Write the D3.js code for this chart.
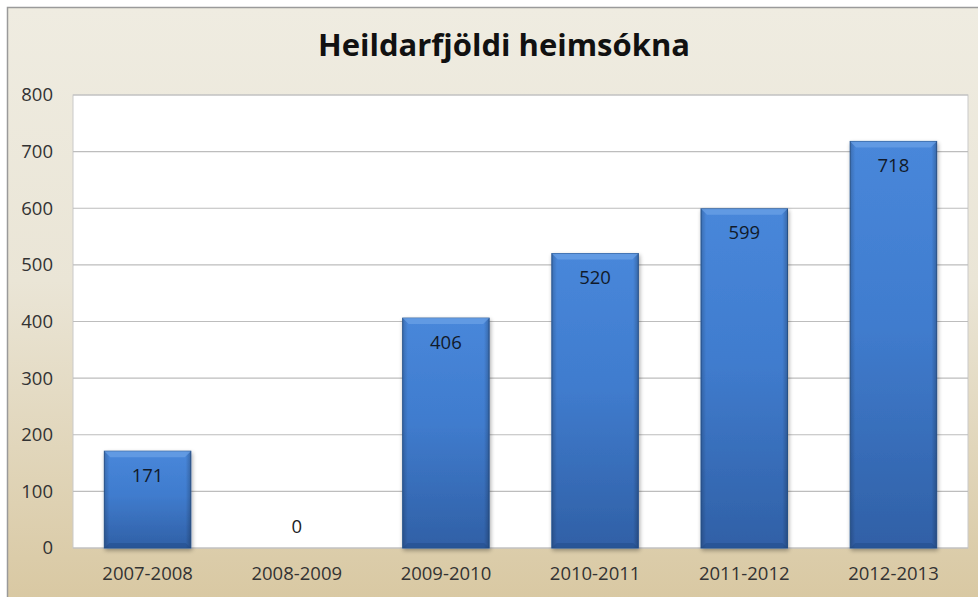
<!DOCTYPE html>
<html><head><meta charset="utf-8">
<script src="https://cdn.jsdelivr.net/npm/d3@7"></script>
<style>html,body{margin:0;padding:0;background:#fff;}svg{display:block;}</style>
</head><body>
<script>
const categories = ["2007-2008","2008-2009","2009-2010","2010-2011","2011-2012","2012-2013"];
const values = [171, 0, 406, 520, 599, 718];
const yTicks = [0,100,200,300,400,500,600,700,800];
const title = "Heildarfjöldi heimsókna";

const FONT = "'Open Sans', 'DejaVu Sans', sans-serif";
const W = 978, H = 597;
const svg = d3.select("body").append("svg").attr("width", W).attr("height", H);
const defs = svg.append("defs");

const bg = defs.append("linearGradient").attr("id","bg").attr("x1",0).attr("y1",0).attr("x2",0).attr("y2",1);
bg.append("stop").attr("offset","0%").attr("stop-color","#EFECE1");
bg.append("stop").attr("offset","45%").attr("stop-color","#EAE5D6");
bg.append("stop").attr("offset","100%").attr("stop-color","#D8C7A0");

const barH = defs.append("linearGradient").attr("id","barH").attr("x1",0).attr("y1",0).attr("x2",0).attr("y2",1);
barH.append("stop").attr("offset","0%").attr("stop-color","#4887DA");
barH.append("stop").attr("offset","45%").attr("stop-color","#407CCE");
barH.append("stop").attr("offset","100%").attr("stop-color","#3060A6");

const shade = defs.append("linearGradient").attr("id","shade").attr("x1",0).attr("y1",0).attr("x2",1).attr("y2",0);
shade.append("stop").attr("offset","0%").attr("stop-color","#000").attr("stop-opacity",0.18);
shade.append("stop").attr("offset","6%").attr("stop-color","#000").attr("stop-opacity",0);
shade.append("stop").attr("offset","94%").attr("stop-color","#000").attr("stop-opacity",0);
shade.append("stop").attr("offset","100%").attr("stop-color","#000").attr("stop-opacity",0.22);

const blur = defs.append("filter").attr("id","sh").attr("x","-10%").attr("y","-10%").attr("width","130%").attr("height","130%");
blur.append("feGaussianBlur").attr("in","SourceAlpha").attr("stdDeviation",2);
blur.append("feOffset").attr("dx",1).attr("dy",2).attr("result","o");
blur.append("feComponentTransfer").append("feFuncA").attr("type","linear").attr("slope",0.35);
const mg = blur.append("feMerge"); mg.append("feMergeNode"); mg.append("feMergeNode").attr("in","SourceGraphic");

// chart background
svg.append("rect").attr("x",7.5).attr("y",7.5).attr("width",W+10).attr("height",H+10)
  .attr("fill","url(#bg)").attr("stroke","#9a9a9a").attr("stroke-width",1.5);

const plot = {left:73, right:968, top:95, bottom:548};
svg.append("rect").attr("x",plot.left).attr("y",plot.top).attr("width",plot.right-plot.left).attr("height",plot.bottom-plot.top)
  .attr("fill","#fff").attr("stroke","#c9c9c9").attr("stroke-width",1);

const x = d3.scaleBand().domain(categories).range([plot.left, plot.right]).paddingInner(0.42).paddingOuter(0.21);
const y = d3.scaleLinear().domain([0,800]).range([plot.bottom, plot.top]);

// gridlines
svg.append("g").selectAll("line").data(yTicks).join("line")
  .attr("x1",plot.left).attr("x2",plot.right).attr("y1",d=>y(d)).attr("y2",d=>y(d))
  .attr("stroke","#bdbdbd").attr("stroke-width",1.2);

// y axis labels
const yAxis = d3.axisLeft(y).tickValues(yTicks).tickSize(0).tickPadding(0);
const gy = svg.append("g").attr("transform",`translate(${plot.left-20},0)`).call(yAxis);
gy.select(".domain").remove();
gy.selectAll("text").attr("font-family",FONT).attr("font-size",18.5).attr("fill","#333");

// x axis labels
const xAxis = d3.axisBottom(x).tickSize(0).tickPadding(0);
const gx = svg.append("g").attr("transform",`translate(0,${plot.bottom+19})`).call(xAxis);
gx.select(".domain").remove();
gx.selectAll("text").attr("font-family",FONT).attr("font-size",18.5).attr("fill","#333");

// bars
const bars = svg.append("g").selectAll("g").data(categories.map((c,i)=>({c,v:values[i]}))).join("g");
bars.filter(d=>d.v>0).append("rect")
  .attr("x",d=>x(d.c)).attr("y",d=>y(d.v)).attr("width",x.bandwidth()).attr("height",d=>y(0)-y(d.v))
  .attr("fill","url(#barH)").attr("stroke","#2c5a97").attr("stroke-width",1).attr("filter","url(#sh)");
bars.filter(d=>d.v>0).append("rect")
  .attr("x",d=>x(d.c)).attr("y",d=>y(d.v)).attr("width",x.bandwidth()).attr("height",d=>y(0)-y(d.v))
  .attr("fill","url(#shade)");
// top bevel
bars.filter(d=>d.v>0).append("path")
  .attr("d",d=>{const x0=x(d.c), x1=x0+x.bandwidth(), t=y(d.v), b=6;
    return `M${x0},${t}L${x1},${t}L${x1-b},${t+b}L${x0+b},${t+b}Z`;})
  .attr("fill","#6aa0e6").attr("opacity",0.75);
// bottom bevel
bars.filter(d=>d.v>0).append("path")
  .attr("d",d=>{const x0=x(d.c), x1=x0+x.bandwidth(), bt=y(0), b=5;
    return `M${x0},${bt}L${x1},${bt}L${x1-b},${bt-b}L${x0+b},${bt-b}Z`;})
  .attr("fill","#1f4a85").attr("opacity",0.45);

// value labels
bars.append("text")
  .attr("x",d=>x(d.c)+x.bandwidth()/2)
  .attr("y",d=>d.v>0 ? y(d.v)+24 : y(0)-21)
  .attr("dy","0.35em").attr("text-anchor","middle")
  .attr("font-family",FONT).attr("font-size",18.5)
  .attr("fill",d=>d.v>0?"#111a2a":"#222")
  .text(d=>d.v);

// title
svg.append("text").attr("x",504).attr("y",45).attr("dy","0.35em").attr("text-anchor","middle")
  .attr("font-family",FONT).attr("font-weight","bold").attr("font-size",31)
  .attr("fill","#111").attr("textLength",372).attr("lengthAdjust","spacingAndGlyphs")
  .text(title);
</script>
</body></html>
